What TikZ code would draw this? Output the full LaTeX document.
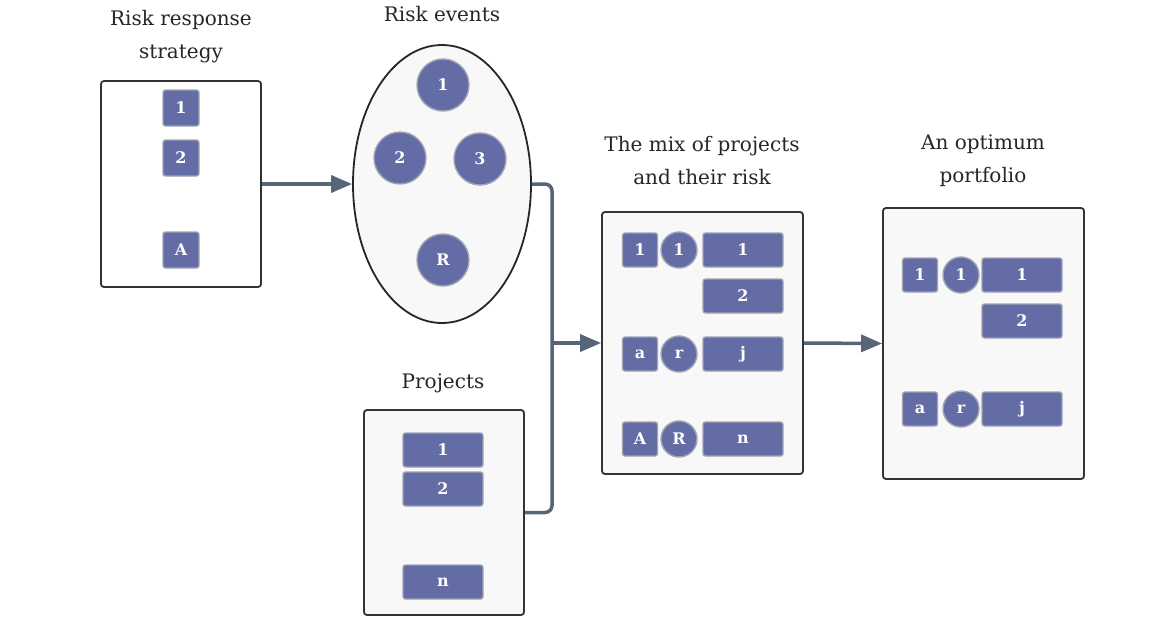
\documentclass[tikz,border=0pt]{standalone}
\usepackage{fontspec}
\newfontfamily\lab{DejaVu Serif}
\usetikzlibrary{shapes.geometric,arrows.meta}
\definecolor{shapeblue}{RGB}{100,108,165}
\definecolor{shapeedge}{RGB}{160,163,180}
\definecolor{connc}{RGB}{88,100,120}
\definecolor{panelfill}{RGB}{248,248,248}
\tikzset{
 panel/.style={draw=black!80, line width=1.8pt, rounded corners=3pt, fill=panelfill, inner sep=0pt},
 sq/.style={rounded corners=2.5pt, fill=shapeblue, draw=shapeedge, line width=1.4pt, minimum width=36pt, minimum height=36pt, inner sep=0pt, text=white, font=\lab\bfseries\fontsize{16}{16}\selectfont},
 bar/.style={sq, minimum width=80pt, minimum height=34pt},
 circ/.style={circle, fill=shapeblue, draw=shapeedge, line width=1.4pt, minimum size=36pt, inner sep=0pt, text=white, font=\lab\bfseries\fontsize{16}{16}\selectfont},
 bigcirc/.style={circ, minimum size=52pt},
 ttl/.style={align=center, font=\lab\fontsize{20}{33}\selectfont, text=black!85},
 conn/.style={draw=connc, line width=3.5pt, rounded corners=7pt},
 arr/.style={conn, -{Triangle[length={21pt 0},width={17pt 0}]}}
}
\begin{document}
\begin{tikzpicture}[x=1pt,y=-1pt]
\useasboundingbox (0,0) rectangle (1166,619);
% titles
\node[ttl] (t1) at (181,37) {Risk response\\strategy};
\node[ttl] (t2) at (442,14) {Risk events};
\node[ttl] (t3) at (702,161) {The mix of projects\\and their risk};
\node[ttl] (t4) at (983,161) {An optimum\\portfolio};
\node[ttl] (t5) at (443,383) {Projects};
% panels
\node[panel, fill=white, minimum width=160pt, minimum height=206pt] (strat) at (181,184) {};
\node[ellipse, draw=black!85, line width=1.8pt, fill=panelfill, minimum width=178pt, minimum height=278pt, inner sep=0pt] (events) at (442,184) {};
\node[panel, minimum width=201pt, minimum height=262pt] (mix) at (702.5,343) {};
\node[panel, minimum width=201pt, minimum height=271pt] (opt) at (983.5,343.5) {};
\node[panel, minimum width=160pt, minimum height=205pt] (proj) at (444,512.5) {};
% strategy
\node[sq] (s1) at (181,108) {1};
\node[sq] (s2) at (181,158) {2};
\node[sq] (sA) at (181,250) {A};
% events
\node[bigcirc] (e1) at (443,85) {1};
\node[bigcirc] (e2) at (400,158) {2};
\node[bigcirc] (e3) at (480,159) {3};
\node[bigcirc] (eR) at (443,260) {R};
% projects
\node[bar] (p1) at (443,450) {1};
\node[bar] (p2) at (443,489) {2};
\node[bar] (pn) at (443,582) {n};
% mix
\node[sq, minimum height=34pt, minimum width=35pt] (m1a) at (640,250) {1};
\node[circ] (m1b) at (679,250) {1};
\node[bar] (m1c) at (743,250) {1};
\node[bar] (m2c) at (743,296) {2};
\node[sq, minimum height=34pt, minimum width=35pt] (m3a) at (640,354) {a};
\node[circ] (m3b) at (679,354) {r};
\node[bar] (m3c) at (743,354) {j};
\node[sq, minimum height=34pt, minimum width=35pt] (m4a) at (640,439) {A};
\node[circ] (m4b) at (679,439) {R};
\node[bar] (m4c) at (743,439) {n};
% optimum
\node[sq, minimum height=34pt, minimum width=35pt] (o1a) at (920,275) {1};
\node[circ] (o1b) at (961,275) {1};
\node[bar] (o1c) at (1022,275) {1};
\node[bar] (o2c) at (1022,321) {2};
\node[sq, minimum height=34pt, minimum width=35pt] (o3a) at (920,409) {a};
\node[circ] (o3b) at (961,409) {r};
\node[bar] (o3c) at (1022,409) {j};
% connectors
\coordinate (j) at (552,343);
\draw[arr] (strat.east) -- (events.west);
\draw[conn] (events.east) -| (j) |- (proj.east);
\draw[arr] (j) -- (mix.west);
\draw[arr] (mix.east) -- (opt.west);
\end{tikzpicture}
\end{document}
